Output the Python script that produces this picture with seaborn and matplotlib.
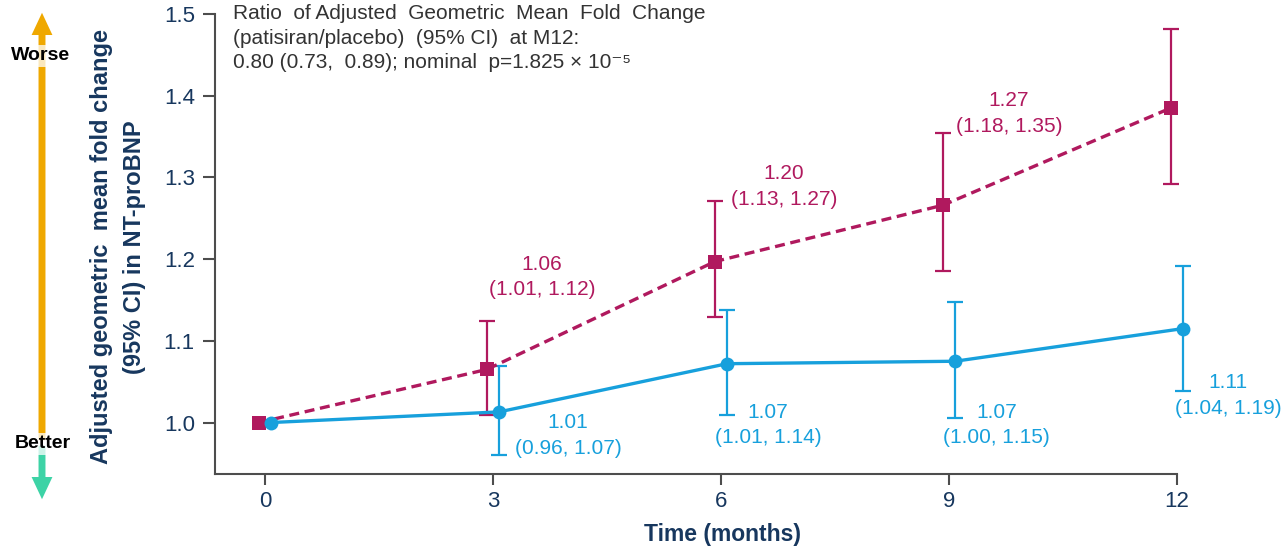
import pandas as pd
import matplotlib.pyplot as plt
from matplotlib.patches import FancyArrowPatch
import seaborn as sns

# data
months = [0, 3, 6, 9, 12]
placebo_mean = [1.00, 1.065, 1.197, 1.266, 1.385]
placebo_lo = [1.00, 1.009, 1.129, 1.186, 1.292]
placebo_hi = [1.00, 1.124, 1.271, 1.354, 1.482]
patis_mean = [1.00, 1.013, 1.072, 1.075, 1.115]
patis_lo = [1.00, 0.960, 1.009, 1.005, 1.039]
patis_hi = [1.00, 1.069, 1.138, 1.148, 1.192]

placebo_labels = ["", "1.06\n(1.01, 1.12)", "1.20\n(1.13, 1.27)", "1.27\n(1.18, 1.35)", ""]
patis_labels = ["", "1.01\n(0.96, 1.07)", "1.07\n(1.01, 1.14)", "1.07\n(1.00, 1.15)", "1.11\n(1.04, 1.19)"]
x_ticks = [0, 3, 6, 9, 12]
y_ticks = [1.0, 1.1, 1.2, 1.3, 1.4, 1.5]

ratio_text = ("Ratio  of Adjusted  Geometric  Mean  Fold  Change\n"
              "(patisiran/placebo)  (95% CI)  at M12:\n"
              "0.80 (0.73,  0.89); nominal  p=1.825 × 10⁻⁵")

PLACEBO = "#B0195E"
PATIS = "#17A0DC"
NAVY = "#17375E"
SPINE = "#4D4D4D"

df = pd.concat([
    pd.DataFrame({"month": months, "mean": placebo_mean, "lo": placebo_lo,
                  "hi": placebo_hi, "group": "Placebo"}),
    pd.DataFrame({"month": months, "mean": patis_mean, "lo": patis_lo,
                  "hi": patis_hi, "group": "Patisiran"}),
])
# small horizontal dodge so the error bars don't sit on top of each other
dodge = {"Placebo": -0.08, "Patisiran": 0.08}
df["x"] = df["month"] + df["group"].map(dodge)
pl = df[df.group == "Placebo"]
pa = df[df.group == "Patisiran"]

sns.set_style("ticks")
plt.rcParams["font.family"] = ["Liberation Sans", "DejaVu Sans"]

fig = plt.figure(figsize=(12.81, 5.49), dpi=100)
ax = fig.add_axes([0.1678, 0.1366, 0.751, 0.8379])

# error bars (not at baseline)
for sub, col in [(pl, PLACEBO), (pa, PATIS)]:
    s = sub.iloc[1:]
    ax.errorbar(s["x"], s["mean"],
                yerr=[s["mean"] - s["lo"], s["hi"] - s["mean"]],
                fmt="none", ecolor=col, elinewidth=1.6, capsize=6, capthick=1.6,
                clip_on=False, zorder=2)

sns.lineplot(data=pl, x="x", y="mean", ax=ax, color=PLACEBO,
             marker="s", markersize=9.5, markeredgewidth=0, linewidth=2.4,
             linestyle=(0, (3, 1.7)), clip_on=False, zorder=3)
sns.lineplot(data=pa, x="x", y="mean", ax=ax, color=PATIS,
             marker="o", markersize=10, markeredgewidth=0, linewidth=2.4,
             clip_on=False, zorder=4)

# value labels, offset from each point
pl_off = [(0, 0), (0.645, 0.113), (0.83, 0.092), (0.79, 0.112), (0, 0)]
pa_off = [(0, 0), (0.99, -0.029), (0.62, -0.075), (0.63, -0.078), (0.67, -0.082)]
for i, m in enumerate(months):
    if placebo_labels[i]:
        ax.text(m + pl_off[i][0], placebo_mean[i] + pl_off[i][1], placebo_labels[i],
                color=PLACEBO, fontsize=15, ha="center", va="center", linespacing=1.45)
    if patis_labels[i]:
        ax.text(m + pa_off[i][0], patis_mean[i] + pa_off[i][1], patis_labels[i],
                color=PATIS, fontsize=15, ha="center", va="center", linespacing=1.45,
                clip_on=False)

fig.text(233 / 1281, 1 - 4 / 549, ratio_text, fontsize=15, color="#333333",
         va="top", ha="left", linespacing=1.38)

ax.set_xlim(-0.658, 12)
ax.set_ylim(0.937, 1.5)
ax.set_xticks(x_ticks)
ax.set_yticks(y_ticks)
ax.set_yticklabels([f"{v:.1f}" for v in y_ticks])
ax.tick_params(colors=SPINE, labelcolor=NAVY, labelsize=16, width=1.5)
ax.tick_params(axis="x", length=8, pad=4)
ax.tick_params(axis="y", length=8.5, pad=6)
sns.despine(ax=ax)
for s in ["left", "bottom"]:
    ax.spines[s].set_color(SPINE)
    ax.spines[s].set_linewidth(1.5)
ax.set_xlabel("")
ax.set_ylabel("")

fig.text(722 / 1281, 3 / 549, "Time (months)", fontsize=16.5, fontweight="bold",
         color=NAVY, ha="center", va="bottom")
fig.text(118 / 1281, 1 - 247 / 549, "Adjusted geometric  mean fold change\n(95% CI) in NT-proBNP",
         rotation=90, fontsize=17, fontweight="bold", color=NAVY,
         ha="center", va="center", multialignment="center", linespacing=1.55)

# worse / better arrows (display pixels)
style = "simple,head_length=1.6,head_width=1.5,tail_width=0.5"
fig.patches.append(FancyArrowPatch((42, 106), (42, 539), transform=None, arrowstyle=style,
                                   mutation_scale=10, color="#EFA800", lw=0))
fig.patches.append(FancyArrowPatch((42, 106), (42, 47), transform=None, arrowstyle=style,
                                   mutation_scale=10, color="#3DD3A6", lw=0))
box = dict(facecolor="white", edgecolor="none", alpha=0.75, pad=1.5)
fig.text(41 / 1281, 1 - 56 / 549, "Worse", fontsize=14, fontweight="bold", color="black",
         ha="center", va="center", bbox=box)
fig.text(43 / 1281, 1 - 444 / 549, "Better", fontsize=14, fontweight="bold", color="black",
         ha="center", va="center", bbox=box)

plt.savefig("out.png", dpi=100)
